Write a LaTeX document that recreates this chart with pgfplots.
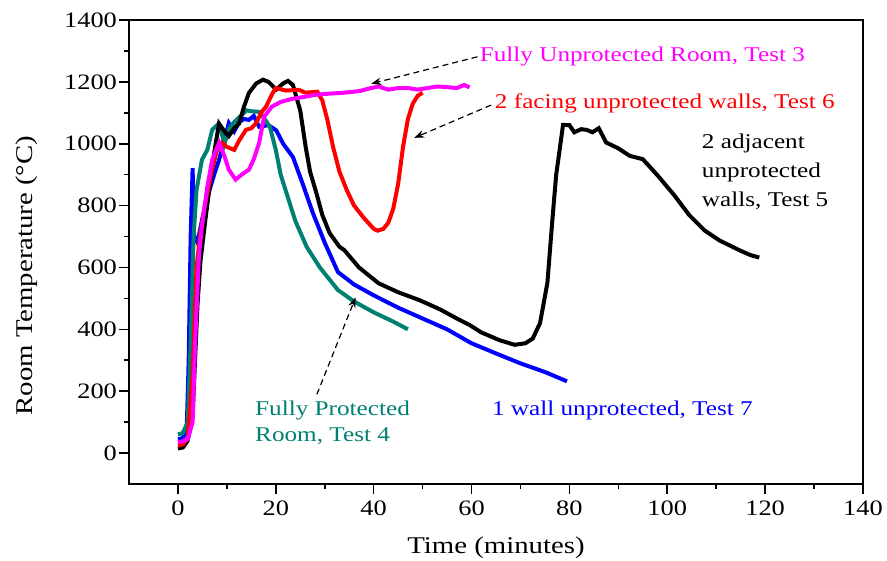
\documentclass[border=0pt]{standalone}
\usepackage{fontspec}
\setmainfont[FakeStretch=1.2]{Liberation Serif}
\usepackage{pgfplots}
\pgfplotsset{compat=1.18}
\usetikzlibrary{arrows.meta}
\definecolor{cteal}{RGB}{0,128,112}
\definecolor{cmag}{RGB}{255,0,255}
\begin{document}
\begin{tikzpicture}
\begin{axis}[
  scale only axis, width=367pt, height=232pt,
  xmin=-10, xmax=140, ymin=-100, ymax=1400,
  xtick={0,20,...,140}, ytick={0,200,...,1400},
  minor x tick num=1, minor y tick num=1,
  tick align=outside, xtick pos=bottom, ytick pos=left,
  major tick length=5pt, minor tick length=2.5pt,
  axis line style={line width=1pt},
  every tick/.style={black, line width=0.8pt},
  /pgf/number format/assume math mode=true,
  /pgf/number format/set thousands separator={},
  ticklabel style={font=\fontsize{11}{13}\selectfont},
  yticklabel style={xshift=2.5pt},
  xlabel={Time (minutes)}, ylabel={Room Temperature (°C)},
  label style={font=\fontsize{12}{14}\selectfont},
  xlabel style={at={(axis description cs:0.5,-0.138)}, anchor=center},
  ylabel style={at={(axis description cs:-0.139,0.449)}, anchor=center},
  clip=false,
]
% Test 7 - 1 wall unprotected (blue)
\addplot[blue, line width=2pt] coordinates {
(0,45)(1,48)(1.8,80)(2.2,300)(2.6,700)(3.0,921)(3.3,700)(4,680)(5,760)(6.3,842)(7.4,900)(8.4,948)(9.5,1010)(10.4,1067)(11.5,1040)(12.5,1070)(13.5,1080)(14.5,1077)(15.5,1090)(16.6,1055)(18.5,1060)(20.1,1043)(21.5,1000)(23.5,957)(25.5,870)(27.6,775)(30,680)(32.7,585)(36,545)(40,510)(45,470)(50,435)(55,400)(60,355)(65,322)(70,290)(75,262)(79.5,232)};
% Test 4 - fully protected (teal)
\addplot[cteal, line width=2pt] coordinates {
(0,60)(1,65)(2,100)(2.6,350)(3.2,700)(3.8,850)(4.9,948)(6,980)(7,1045)(8,1060)(8.6,1054)(9.5,1000)(10.5,1050)(11.5,1070)(12.5,1085)(14,1108)(15,1105)(16.7,1103)(17.5,1085)(18.8,1054)(20,980)(21,900)(22.2,840)(24,750)(26.3,667)(29,600)(32.7,527)(36,490)(40,455)(44,425)(47,400)};
% Test 5 - 2 adjacent unprotected walls (black)
\addplot[black, line width=2pt] coordinates {
(0,15)(1,18)(2,40)(3,120)(3.5,300)(4,480)(4.6,620)(5.5,740)(6.3,840)(7.5,980)(8.4,1065)(9.5,1040)(10.4,1025)(11.5,1050)(12.5,1065)(13.5,1120)(14.5,1164)(16,1195)(17.4,1207)(18.5,1200)(20.1,1175)(21.5,1195)(22.5,1203)(23.5,1190)(25,1107)(26.1,990)(27,910)(28.3,840)(29.5,770)(31,711)(33,667)(34,656)(37,600)(41,549)(45,520)(49.4,494)(53.5,465)(57,435)(59.6,414)(62,390)(65.7,365)(68.8,350)(71,355)(72.5,370)(74,420)(75.5,550)(76.5,750)(77.3,900)(78,980)(78.7,1061)(80,1060)(81,1037)(82.4,1047)(83.5,1045)(84.7,1037)(86,1050)(87.5,1004)(90,985)(92.3,961)(95,950)(98,898)(101.4,834)(104.5,769)(107.6,720)(110.6,688)(114.7,656)(117,640)(118.8,632)};
% Test 6 - 2 facing unprotected walls (red)
\addplot[red, line width=2pt] coordinates {
(0,25)(1,28)(2,50)(3,250)(3.8,600)(4.5,700)(5.5,800)(7,920)(8,980)(9,1003)(10,990)(11.5,980)(12.5,1010)(13.9,1045)(15,1050)(16,1067)(17,1100)(18,1120)(19.3,1162)(20,1180)(22,1172)(24.8,1174)(26,1165)(28.5,1168)(29.5,1140)(30.5,1080)(31.7,990)(33,910)(34.5,850)(36,800)(38,760)(40,725)(40.8,719)(42,725)(43,745)(44,790)(45,870)(46,990)(47,1080)(48,1130)(49,1155)(50,1165)};
% Test 3 - fully unprotected room (magenta)
\addplot[cmag, line width=2pt] coordinates {
(0,35)(1,38)(2,45)(3,100)(3.5,350)(4.3,640)(4.9,733)(6,860)(7,948)(8.4,1003)(9.5,960)(10.4,916)(11.8,884)(13,900)(14.5,916)(15.5,950)(16.6,1003)(17.6,1087)(19.2,1120)(21,1135)(23.3,1145)(26,1152)(28,1158)(31,1162)(34,1165)(37,1170)(39.5,1180)(41,1185)(43,1175)(45,1180)(47,1180)(49,1175)(51,1180)(53,1185)(55,1183)(57,1180)(58.5,1190)(59.6,1182)};
% annotations
\begin{scope}[font=\fontsize{10.5}{14.5}\selectfont]
\node[cmag, anchor=west, inner sep=1pt] at (axis cs:61.2,1281) {Fully Unprotected Room, Test 3};
\draw[densely dashed, line width=0.6pt, -{Stealth[length=5pt]}] (axis cs:61.2,1281) -- (axis cs:39.5,1194);
\node[red, anchor=west, inner sep=1pt] at (axis cs:64.3,1129) {2 facing unprotected walls, Test 6};
\draw[densely dashed, line width=0.6pt, -{Stealth[length=5pt]}] (axis cs:64.0,1125) -- (axis cs:48.3,1019);
\node[black, anchor=west, align=left, inner sep=1pt] at (axis cs:106.6,910) {2 adjacent\\unprotected\\walls, Test 5};
\node[cteal, anchor=west, align=left, inner sep=1pt, font=\fontsize{10.5}{13}\selectfont] at (axis cs:15.3,97) {Fully Protected\\Room, Test 4};
\draw[densely dashed, line width=0.6pt, -{Stealth[length=5pt]}] (axis cs:28.4,190) -- (axis cs:36.3,503);
\node[blue, anchor=west, inner sep=1pt] at (axis cs:63.7,139) {1 wall unprotected, Test 7};
\end{scope}
\end{axis}
\pgfresetboundingbox
\path (-64.5pt,-38.5pt) rectangle (379pt,242pt);
\end{tikzpicture}
\end{document}
